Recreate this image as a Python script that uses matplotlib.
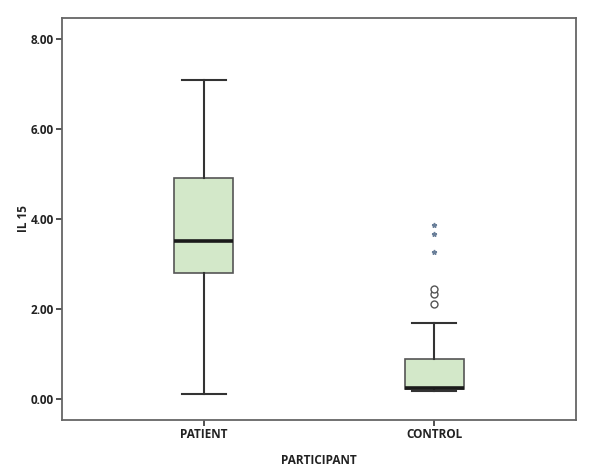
import matplotlib.pyplot as plt

groups = ["PATIENT", "CONTROL"]
whislo = [0.10, 0.18]
q1 = [2.80, 0.21]
med = [3.50, 0.24]
q3 = [4.90, 0.89]
whishi = [7.10, 1.69]
outliers_circle = [[], [2.11, 2.33, 2.44]]
outliers_star = [[], [3.27, 3.67, 3.87]]

plt.rcParams['font.family'] = ['Open Sans', 'DejaVu Sans']

fig = plt.figure(figsize=(6.08, 4.75), dpi=100)
ax = fig.add_axes([0.102, 0.116, 0.845, 0.846])

stats = []
for i in range(len(groups)):
    stats.append(dict(label=groups[i], whislo=whislo[i], q1=q1[i], med=med[i],
                      q3=q3[i], whishi=whishi[i], fliers=[]))

pos = [1, 2]
ax.bxp(stats, positions=pos, widths=0.256, patch_artist=True, showfliers=False,
       boxprops=dict(facecolor="#d3e8c9", edgecolor="#555555", linewidth=1.2),
       medianprops=dict(color="#1a1a1a", linewidth=2.6),
       whiskerprops=dict(color="#333333", linewidth=1.5),
       capprops=dict(color="#333333", linewidth=1.5),
       capwidths=0.19)

for p, vals in zip(pos, outliers_circle):
    if vals:
        ax.plot([p] * len(vals), vals, linestyle="none", marker="o", markersize=5,
                markerfacecolor="white", markeredgecolor="#555555", markeredgewidth=1.0)
for p, vals in zip(pos, outliers_star):
    if vals:
        ax.plot([p] * len(vals), vals, linestyle="none", marker="*", markersize=3.5,
                color="#6a7f99")

ax.set_xlim(0.384, 2.614)
ax.set_ylim(-0.467, 8.467)
ax.set_yticks([0, 2, 4, 6, 8])
ax.set_yticklabels(["0.00", "2.00", "4.00", "6.00", "8.00"])
ax.set_xticks(pos)
ax.set_xticklabels(groups)

for s in ax.spines.values():
    s.set_color("#666666")
    s.set_linewidth(1.3)
ax.tick_params(colors="#333333", labelsize=8.5, length=4, width=1.2, pad=2)
for lab in ax.get_xticklabels() + ax.get_yticklabels():
    lab.set_fontweight("bold")
    lab.set_color("#222222")

ax.set_ylabel("IL 15", fontsize=8.5, fontweight="bold", color="#222222", labelpad=0)
ax.set_xlabel("PARTICIPANT", fontsize=8.5, fontweight="bold", color="#222222", labelpad=9)

fig.savefig("out.png", dpi=100)
